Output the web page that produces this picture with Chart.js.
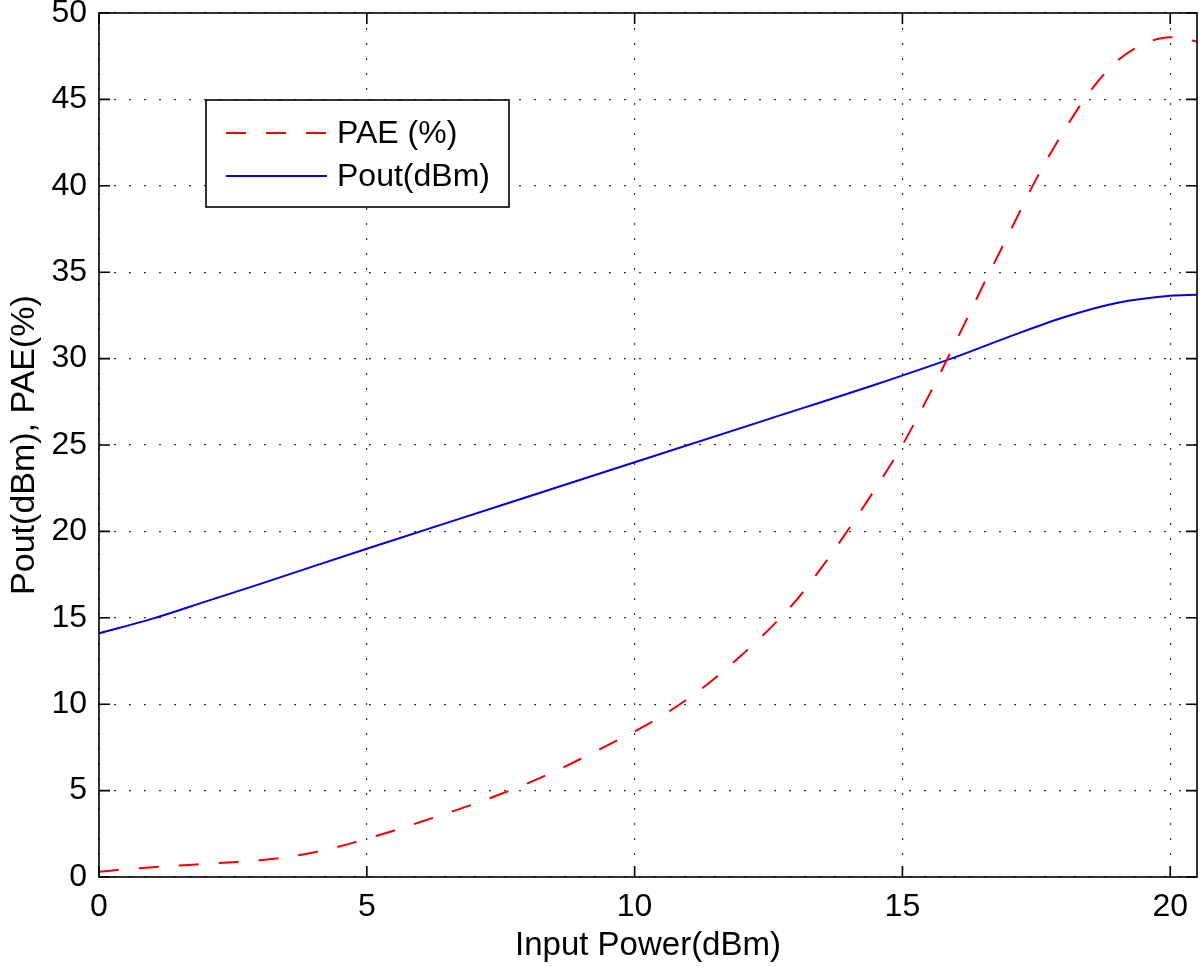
<!DOCTYPE html>
<html>
<head>
<meta charset="utf-8">
<title>PAE and Pout vs Input Power</title>
<script src="https://cdn.jsdelivr.net/npm/chart.js@4.4.1/dist/chart.umd.min.js"></script>
<style>
  html, body { margin: 0; padding: 0; background: #fff; }
  #wrap { width: 1200px; height: 967px; }
</style>
</head>
<body>
<div id="wrap"><canvas id="paChart" width="1200" height="967"></canvas></div>
<script>
// ── values ──
const paeInput = [0, 0.5, 1, 1.5, 2, 2.5, 3, 3.5, 4, 4.5, 5, 5.5, 6, 6.5, 7, 7.5, 8, 8.5, 9, 9.5, 10,
                  10.5, 11, 11.5, 12, 12.5, 13, 13.5, 14, 14.5, 15, 15.5, 16, 16.5, 17, 17.5, 18, 18.5, 19, 19.5, 20, 20.5];
const paeValues = [0.3, 0.45, 0.57, 0.67, 0.76, 0.86, 0.97, 1.15, 1.42, 1.78, 2.22, 2.68, 3.18, 3.7, 4.22, 4.8, 5.42, 6.1, 6.85, 7.63, 8.42,
                   9.3, 10.33, 11.5, 12.85, 14.3, 15.95, 17.95, 20.15, 22.5, 25.0, 27.9, 31.0, 34.2, 37.3, 40.4, 43.1, 45.45, 47.2, 48.2, 48.6, 48.35];

const poutInput  = [0, 1, 2, 3, 5, 7.5, 10, 12.5, 14.5, 16, 17, 18, 19, 20, 20.5];
const poutValues = [14.1, 14.95, 15.95, 16.95, 19.0, 21.5, 24.0, 26.5, 28.5, 30.1, 31.27, 32.38, 33.22, 33.64, 33.7];

const xTickValues = [0, 5, 10, 15, 20];
const yTickValues = [0, 5, 10, 15, 20, 25, 30, 35, 40, 45, 50];

const seriesLabels = ['PAE (%)', 'Pout(dBm)'];
const xTitle = 'Input Power(dBm)';
const yTitle = 'Pout(dBm), PAE(%)';

const FONT = '"Liberation Sans", Arial, Helvetica, sans-serif';
const FONT_SIZE = 32;

// frame plus inward ticks on all four sides, like a boxed MATLAB axes
const boxPlugin = {
  id: 'boxFrame',
  afterDraw(chart) {
    const { ctx, chartArea: a, scales: { x, y } } = chart;
    const len = 11;
    ctx.save();
    ctx.strokeStyle = '#000';
    ctx.lineWidth = 1.6;
    ctx.beginPath();
    x.ticks.forEach(t => {
      const px = x.getPixelForValue(t.value);
      ctx.moveTo(px, a.bottom); ctx.lineTo(px, a.bottom - len);
      ctx.moveTo(px, a.top);    ctx.lineTo(px, a.top + len);
    });
    y.ticks.forEach(t => {
      const py = y.getPixelForValue(t.value);
      ctx.moveTo(a.left, py);  ctx.lineTo(a.left + len, py);
      ctx.moveTo(a.right, py); ctx.lineTo(a.right - len, py);
    });
    ctx.stroke();
    ctx.strokeRect(a.left, a.top, a.right - a.left, a.bottom - a.top);
    ctx.restore();
  }
};

// boxed legend sitting inside the plot
const legendPlugin = {
  id: 'boxLegend',
  afterDraw(chart, args, opts) {
    const { ctx } = chart;
    const { left, top, width, height, rows, sampleX, sampleLen, textX } = opts;
    ctx.save();
    ctx.fillStyle = '#fff';
    ctx.fillRect(left, top, width, height);
    ctx.strokeStyle = '#000';
    ctx.lineWidth = 1.6;
    ctx.strokeRect(left, top, width, height);
    ctx.font = `${FONT_SIZE}px ${FONT}`;
    ctx.textBaseline = 'middle';
    chart.data.datasets.forEach((ds, i) => {
      const yy = rows[i];
      ctx.strokeStyle = ds.borderColor;
      ctx.lineWidth = ds.borderWidth;
      ctx.setLineDash(ds.borderDash || []);
      ctx.beginPath();
      ctx.moveTo(sampleX, yy);
      ctx.lineTo(sampleX + sampleLen, yy);
      ctx.stroke();
      ctx.setLineDash([]);
      ctx.fillStyle = '#000';
      ctx.fillText(ds.label, textX, yy + 1);
    });
    ctx.restore();
  }
};

const toPoints = (xs, ys) => xs.map((v, i) => ({ x: v, y: ys[i] }));

const gridStyle = {
  color: '#333',
  lineWidth: 1.2,
  drawTicks: false
};

new Chart(document.getElementById('paChart'), {
  type: 'line',
  data: {
    datasets: [
      {
        label: seriesLabels[0],
        data: toPoints(paeInput, paeValues),
        borderColor: 'rgb(240,0,0)',
        borderWidth: 2,
        borderDash: [20, 20],
        pointRadius: 0,
        cubicInterpolationMode: 'monotone',
        fill: false
      },
      {
        label: seriesLabels[1],
        data: toPoints(poutInput, poutValues),
        borderColor: 'rgb(0,0,230)',
        borderWidth: 2,
        pointRadius: 0,
        cubicInterpolationMode: 'monotone',
        fill: false
      }
    ]
  },
  options: {
    responsive: false,
    animation: false,
    layout: { padding: { top: 13, right: 3, left: 0, bottom: 0 } },
    scales: {
      x: {
        type: 'linear',
        min: 0, max: 20.5,
        afterBuildTicks: s => { s.ticks = xTickValues.map(v => ({ value: v })); },
        afterFit: s => { s.height = 90; s.paddingLeft = 0; s.paddingRight = 0; },
        ticks: {
          color: '#000',
          padding: 11,
          maxRotation: 0,
          font: { family: FONT, size: FONT_SIZE, lineHeight: 1.2 }
        },
        grid: gridStyle,
        border: { display: false, dash: [2, 13] },
        title: {
          display: true,
          text: xTitle,
          color: '#000',
          padding: { top: 0, bottom: 1 },
          font: { family: FONT, size: 33, lineHeight: 1.2 }
        }
      },
      y: {
        min: 0, max: 50,
        afterBuildTicks: s => { s.ticks = yTickValues.map(v => ({ value: v })); },
        afterFit: s => { s.width = 99; s.paddingTop = 0; s.paddingBottom = 0; },
        ticks: {
          color: '#000',
          padding: 12,
          font: { family: FONT, size: FONT_SIZE, lineHeight: 1.2 }
        },
        grid: gridStyle,
        border: { display: false, dash: [2, 13] },
        title: {
          display: true,
          text: yTitle,
          color: '#000',
          padding: { top: 4, bottom: 0 },
          font: { family: FONT, size: 34, lineHeight: 1.2 }
        }
      }
    },
    plugins: {
      legend: { display: false },
      tooltip: { enabled: false },
      boxLegend: {
        left: 206, top: 100, width: 303, height: 107,
        rows: [133, 176],
        sampleX: 226, sampleLen: 101, textX: 337
      }
    }
  },
  plugins: [boxPlugin, legendPlugin]
});
</script>
</body>
</html>
